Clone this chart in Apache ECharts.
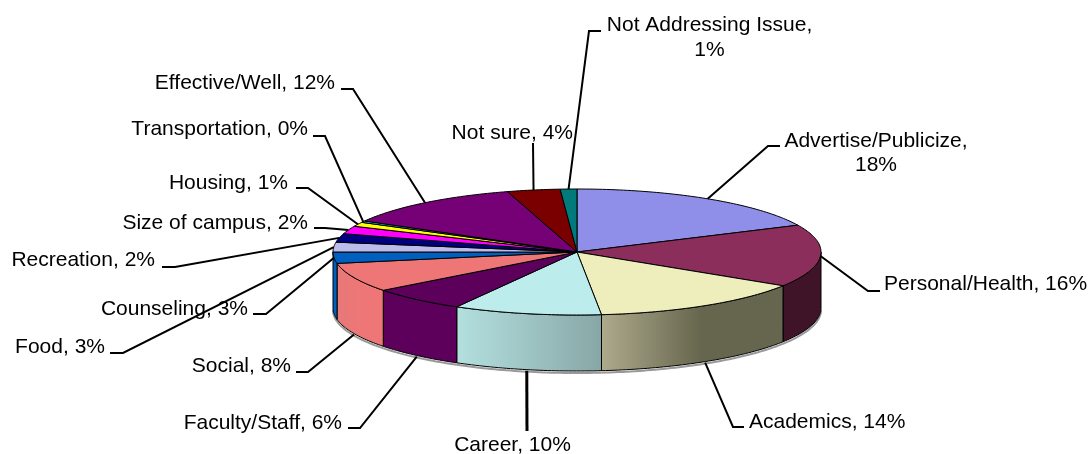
<!DOCTYPE html>
<html><head><meta charset="utf-8">
<style>html,body{margin:0;padding:0;background:#fff}#c{width:1092px;height:454px}</style>
<script src="https://cdn.jsdelivr.net/npm/echarts@6/dist/echarts.min.js"></script>
</head><body><div id="c"></div>
<script>
// ---- data ----
const names = ['Advertise/Publicize','Personal/Health','Academics','Career','Faculty/Staff','Social','Food','Counseling','Recreation','Size of campus','Housing','Transportation','Effective/Well','Not sure','Not Addressing Issue'];
const values = [18,16,14.4,9.8,6.4,7.5,2.9,2.5,2.2,2,1.1,0.4,12.2,3.5,1.1];
// ---- styles ----
const topColors = ['#8f8fea','#8c2e5c','#eeeebc','#bcecec','#5c005c','#ef7676','#0060c0','#bcbcec','#000080','#ff00ff','#ffff00','#00cccc','#760076','#7a0000','#007a7a'];
const wallColors = ['#8f8fea','#3f1428',['#aeaa8c','#66664e',.55],['#b4e0e0','#88a6a6',1],'#5c005c',['#e87878','#ef7676',.6],'#0060c0','#bcbcec','#000080','#ff00ff','#ffff00','#00cccc','#760076','#7a0000','#007a7a'];
// ---- label layout: text anchor, align, leader elbow points; 'via' = slice the leader lands on when not its own ----
const labelLayout = [
 {x:876,y:153,a:'center',sep:',\n',lh:24,pts:[[780,146],[768,146]]},
 {x:884,y:284,a:'left',pts:[[880,291],[868,291]]},
 {x:749,y:422,a:'left',pts:[[744,427],[733,427]]},
 {x:512.5,y:445,a:'center',w:3,pts:[[527,431]]},
 {x:342,y:423,a:'right',pts:[[348,428],[360,428]]},
 {x:291,y:366,a:'right',pts:[[296,372],[308,372]]},
 {x:105,y:347,a:'right',via:7,pts:[[110,353],[123,353]]},
 {x:248,y:309,a:'right',via:6,pts:[[253,314],[266,314]]},
 {x:155,y:260,a:'right',pts:[[162,267],[175,267]]},
 {x:308,y:223,a:'right',pts:[[314,228],[325,228]]},
 {x:288,y:183,a:'right',pts:[[296,188],[308,188]]},
 {x:308,y:129,a:'right',pts:[[313,136],[325,136]]},
 {x:335,y:83,a:'right',pts:[[341,89],[353,89]]},
 {x:573,y:133,a:'right',w:2,pts:[[533,143]]},
 {x:709.5,y:38,a:'center',sep:',\n',pts:[[601,31],[589,31]]}
];
const CX=577, CY=252, RX=244, RY=63, DEPTH=56;
const FONT='21px "Liberation Sans",Arial,sans-serif';
const total = values.reduce((s,v)=>s+v,0);
const cum = []; values.reduce((s,v,i)=>(cum[i]=s,s+v),0);
const pt = (deg,dy=0)=>{const r=deg*Math.PI/180;return [CX+RX*Math.sin(r),CY-RY*Math.cos(r)+dy];};
const arc = (a0,a1,dy=0)=>{const out=[];const n=Math.max(2,Math.ceil(Math.abs(a1-a0)));for(let k=0;k<=n;k++)out.push(pt(a0+(a1-a0)*k/n,dy));return out;};
const midAngle = i=>(cum[i]+values[i]/2)/total*360;
const LINE='#000';
function renderItem(params,api){
  const i=params.dataIndex, v=api.value(0);
  const a0=cum[i]/total*360, a1=(cum[i]+v)/total*360;
  const ch=[];
  const w0=Math.max(a0,90), w1=Math.min(a1,270);
  if(w1>w0){
    const c=wallColors[i];
    const fill=Array.isArray(c)?{type:'linear',x:0,y:0,x2:1,y2:0,colorStops:[{offset:0,color:c[0]},{offset:c[2],color:c[1]},{offset:1,color:c[1]}]}:c;
    ch.push({type:'polyline',z2:1,shape:{points:arc(w0,w1,DEPTH+2)},style:{fill:'none',stroke:'#999',lineWidth:2}});
    ch.push({type:'polygon',z2:2,shape:{points:arc(w0,w1).concat(arc(w1,w0,DEPTH))},style:{fill,stroke:LINE,lineWidth:1}});
  }
  ch.push({type:'polygon',z2:3,shape:{points:[[CX,CY]].concat(arc(a0,a1))},style:{fill:topColors[i],stroke:LINE,lineWidth:1}});
  const L=labelLayout[i];
  const mid=midAngle(L.via===undefined?i:L.via);
  const start=pt(mid,(mid>100&&mid<255)?DEPTH+1:0);
  ch.push({type:'polyline',z2:4,shape:{points:L.pts.concat([start])},style:{fill:'none',stroke:LINE,lineWidth:L.w||2}});
  ch.push({type:'text',z2:5,style:{x:L.x,y:L.y,text:names[i]+(L.sep||', ')+Math.round(v)+'%',align:L.a,verticalAlign:'middle',font:FONT,fill:'#000',lineHeight:L.lh||25}});
  return {type:'group',children:ch};
}
const chart=echarts.init(document.getElementById('c'),null,{renderer:'canvas'});
chart.setOption({
  animation:false,backgroundColor:'#fff',
  series:[{type:'custom',coordinateSystem:'none',silent:true,renderItem,data:values.map(v=>[v]),clip:false}]
});
</script></body></html>
